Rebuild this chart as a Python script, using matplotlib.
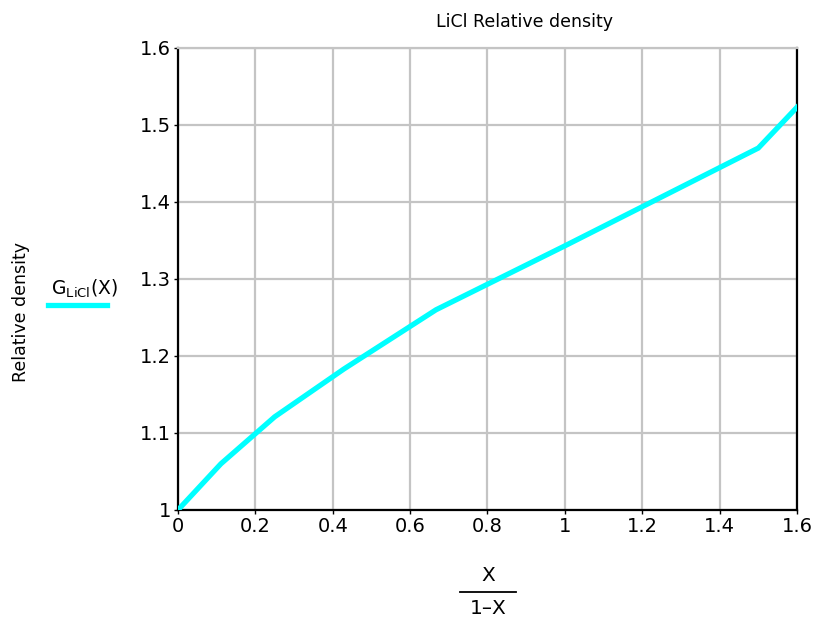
import numpy as np
import matplotlib.pyplot as plt

# LiCl solution: ratio X/(1-X) against relative density
ratio = [0.0, 0.111, 0.25, 0.4286, 0.667, 1.0, 1.5, 1.6]
density = [1.0, 1.060, 1.121, 1.183, 1.260, 1.343, 1.470, 1.523]

x_ticks = [0, 0.2, 0.4, 0.6, 0.8, 1, 1.2, 1.4, 1.6]
x_tick_labels = ['0', '0.2', '0.4', '0.6', '0.8', '1', '1.2', '1.4', '1.6']
y_ticks = [1, 1.1, 1.2, 1.3, 1.4, 1.5, 1.6]
y_tick_labels = ['1', '1.1', '1.2', '1.3', '1.4', '1.5', '1.6']

plt.rcParams['font.family'] = ['DejaVu Sans']

fig = plt.figure(figsize=(8.19, 6.23), dpi=100)
ax = fig.add_axes([0.2173, 0.1814, 0.7558, 0.7416])

ax.plot(ratio, density, color='#00ffff', linewidth=3.8, solid_joinstyle='miter', zorder=3)

ax.set_xlim(0, 1.6)
ax.set_ylim(1, 1.6)
ax.set_xticks(x_ticks)
ax.set_xticklabels(x_tick_labels)
ax.set_yticks(y_ticks)
ax.set_yticklabels(y_tick_labels)
ax.tick_params(labelsize=14, length=3, width=1, pad=2, colors='black')
ax.grid(True, color='#c4c4c4', linewidth=1.6)
ax.set_axisbelow(True)

for side in ['left', 'bottom', 'right']:
    ax.spines[side].set_color('black')
    ax.spines[side].set_linewidth(1.6)
ax.spines['top'].set_color('#c4c4c4')
ax.spines['top'].set_linewidth(1.6)

# title sits a little right of the plot centre
fig.text(0.640, 0.965, 'LiCl Relative density', fontsize=12.5, ha='center', va='center')

# y label and legend entry on the left
fig.text(0.026, 0.5, 'Relative density', rotation=90, fontsize=12.5,
         ha='center', va='center')
fig.text(0.062, 0.537, r'$\mathregular{G_{LiCl}(X)}$', fontsize=13.5,
         ha='left', va='center')
fig.add_artist(plt.Line2D([0.058, 0.131], [0.510, 0.510], color='#00ffff',
                          linewidth=3.8, transform=fig.transFigure))

# x label written as a fraction
cx = 0.596
fig.text(cx, 0.076, 'X', fontsize=14.5, ha='center', va='center')
fig.add_artist(plt.Line2D([cx - 0.034, cx + 0.034], [0.050, 0.050], color='black',
                          linewidth=1.3, transform=fig.transFigure))
fig.text(cx, 0.024, '1\u2013X', fontsize=14.5, ha='center', va='center')

fig.savefig('out.png', dpi=100)
